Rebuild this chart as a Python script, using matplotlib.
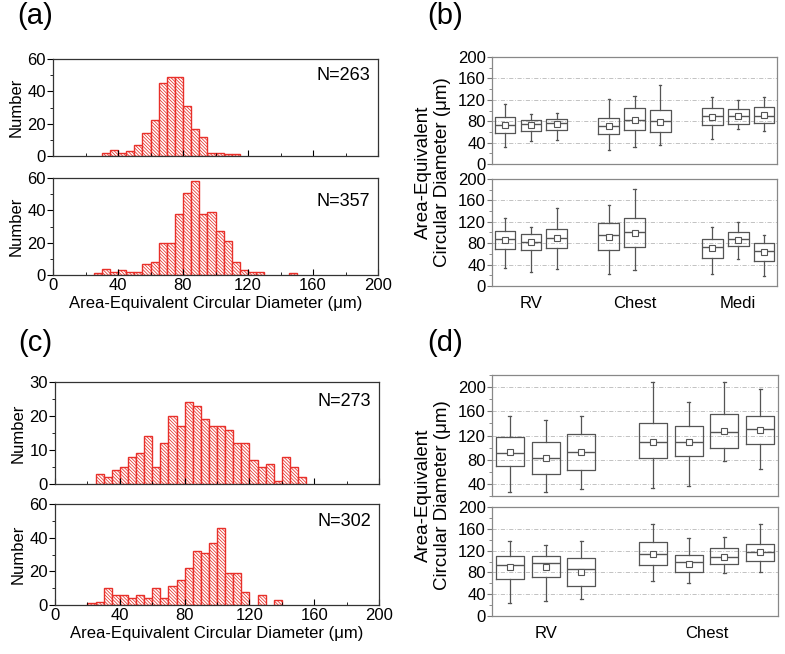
import numpy as np
import matplotlib.pyplot as plt
from matplotlib.ticker import MultipleLocator

plt.rcParams['font.family'] = ['Liberation Sans', 'DejaVu Sans']
plt.rcParams['hatch.linewidth'] = 0.55

# ====================== Histogram data (bin width 5 um) ======================
bin_width = 5
a1_start = 30
a1_counts = [2, 4, 2, 3, 7, 14, 22, 45, 49, 49, 31, 17, 12, 2, 2, 1, 1]
a2_start = 25
a2_counts = [1, 4, 2, 3, 2, 2, 7, 8, 20, 20, 38, 51, 58, 38, 39, 27, 21, 8,
             3, 2, 2, 0, 0, 0, 1]
c1_start = 25
c1_counts = [3, 2, 4, 5, 8, 9, 14, 5, 12, 20, 17, 24, 23, 19, 17, 17, 16, 12,
             12, 7, 5, 6, 1, 8, 5, 2]
c2_start = 20
c2_counts = [1, 2, 10, 6, 6, 4, 6, 4, 10, 4, 11, 15, 22, 32, 31, 37, 46, 19,
             19, 8, 0, 6, 0, 3]

# ====================== Box plot data (um) ======================
b1_pos = [1, 2, 3, 5, 6, 7, 9, 10, 11]
b1_hi = [113, 93, 96, 122, 127, 148, 125, 120, 125]
b1_q3 = [87, 82, 85, 86, 105, 101, 105, 103, 107]
b1_med = [72, 75, 77, 71, 83, 81, 89, 89, 89]
b1_mean = [72, 72, 75, 71, 83, 79, 88, 89, 91]
b1_q1 = [58, 62, 64, 57, 63, 59, 72, 75, 76]
b1_lo = [32, 43, 45, 27, 32, 36, 47, 66, 61]

b2_pos = [1, 2, 3, 5, 6, 9, 10, 11]
b2_hi = [127, 111, 146, 152, 181, 111, 119, 96]
b2_q3 = [102, 98, 107, 118, 127, 87, 101, 81]
b2_med = [87, 83, 90, 96, 100, 72, 87, 66]
b2_mean = [86, 82, 89, 92, 99, 71, 86, 63]
b2_q1 = [69, 67, 71, 67, 72, 53, 74, 47]
b2_lo = [34, 27, 31, 22, 29, 23, 50, 19]

d1_pos = [1, 2, 3, 5, 6, 7, 8]
d1_hi = [152, 145, 152, 209, 176, 209, 197]
d1_q3 = [118, 109, 122, 141, 136, 156, 153]
d1_med = [91, 82, 93, 110, 109, 126, 131]
d1_mean = [93, 82, 92, 110, 110, 128, 129]
d1_q1 = [69, 57, 63, 82, 86, 100, 106]
d1_lo = [26, 26, 31, 34, 37, 78, 65]

d2_pos = [1, 2, 3, 5, 6, 7, 8]
d2_hi = [137, 130, 137, 169, 143, 145, 168]
d2_q3 = [111, 111, 106, 135, 112, 125, 133]
d2_med = [94, 97, 86, 113, 99, 109, 117]
d2_mean = [89, 90, 80, 114, 96, 109, 117]
d2_q1 = [67, 71, 55, 93, 81, 95, 101]
d2_lo = [24, 27, 32, 64, 60, 78, 81]

b_groups = ["RV", "Chest", "Medi"]
b_group_pos = [2, 6, 10]
d_groups = ["RV", "Chest"]
d_group_pos = [2, 6.5]

# ====================== Figure ======================
W, H = 785, 654
fig = plt.figure(figsize=(W / 100, H / 100), dpi=100)


def px_axes(x0, y0, x1, y1):
    return fig.add_axes([x0 / W, 1 - y1 / H, (x1 - x0) / W, (y1 - y0) / H])


red = '#e8302a'
gray = '#555555'
xlab = "Area-Equivalent Circular Diameter (\u03bcm)"


def draw_hist(ax, start, counts, ymax, ystep, label, label_y, show_x):
    lefts = [start + bin_width * i for i in range(len(counts))]
    keep = [i for i, c in enumerate(counts) if c > 0]
    ax.bar([lefts[i] for i in keep], [counts[i] for i in keep], width=bin_width,
           align='edge', facecolor='white', edgecolor=red, linewidth=1.0,
           hatch='\\' * 10)
    ax.set_xlim(0, 200)
    ax.set_ylim(0, ymax)
    ax.xaxis.set_major_locator(MultipleLocator(40))
    ax.xaxis.set_minor_locator(MultipleLocator(20))
    ax.yaxis.set_major_locator(MultipleLocator(ystep))
    ax.yaxis.set_minor_locator(MultipleLocator(ystep / 2))
    ax.tick_params(axis='x', which='both', direction='in', top=False, labelsize=12,
                   labelbottom=show_x, pad=2)
    ax.tick_params(axis='x', which='major', length=4)
    ax.tick_params(axis='x', which='minor', length=2.5)
    ax.tick_params(axis='y', which='major', direction='out', length=4, labelsize=12, pad=1)
    ax.tick_params(axis='y', which='minor', direction='out', length=2)
    for s in ax.spines.values():
        s.set_color('#333333')
        s.set_linewidth(0.9)
    ax.set_ylabel("Number", fontsize=12, labelpad=3)
    ax.text(0.975, label_y, label, transform=ax.transAxes, ha='right', va='center',
            fontsize=13)
    if show_x:
        ax.set_xlabel(xlab, fontsize=12, labelpad=2)


def draw_box(ax, pos, lo, q1, med, q3, hi, mean, ylim, yticks, xmax, groups,
             group_pos, width):
    stats = []
    for i in range(len(pos)):
        stats.append({'whislo': lo[i], 'q1': q1[i], 'med': med[i], 'q3': q3[i],
                      'whishi': hi[i], 'mean': mean[i], 'fliers': []})
    line = dict(color=gray, linewidth=0.9)
    ax.bxp(stats, positions=pos, widths=width, showmeans=True, showfliers=False,
           boxprops=line, whiskerprops=line, capprops=line,
           medianprops=dict(color=gray, linewidth=1.0), capwidths=0.08,
           meanprops=dict(marker='s', markersize=4, markerfacecolor='white',
                          markeredgecolor=gray, markeredgewidth=0.8))
    ax.set_xlim(0.5, xmax)
    ax.set_ylim(*ylim)
    ax.set_yticks(yticks)
    ax.yaxis.set_minor_locator(MultipleLocator(20))
    ax.yaxis.grid(True, color='#b8b8b8', linestyle=(0, (5, 2, 1, 2)), linewidth=0.6)
    ax.set_axisbelow(True)
    ax.tick_params(axis='y', which='major', direction='out', length=3.5,
                   labelsize=12, pad=1, color='#777777')
    ax.tick_params(axis='y', which='minor', direction='out', length=2, color='#777777')
    for s in ax.spines.values():
        s.set_color('#888888')
        s.set_linewidth(0.9)
    if groups:
        ax.set_xticks(group_pos)
        ax.set_xticklabels(groups, fontsize=12)
        ax.tick_params(axis='x', length=0, pad=7)
    else:
        ax.set_xticks([])


# ---- (a) ----
ax = px_axes(53, 59, 378, 156)
draw_hist(ax, a1_start, a1_counts, 60, 20, "N=263", 0.835, False)
ax = px_axes(53, 178, 378, 275)
draw_hist(ax, a2_start, a2_counts, 60, 20, "N=357", 0.76, True)

# ---- (c) ----
ax = px_axes(55, 382, 379, 484)
draw_hist(ax, c1_start, c1_counts, 30, 10, "N=273", 0.81, False)
ax = px_axes(55, 504, 379, 605)
draw_hist(ax, c2_start, c2_counts, 60, 20, "N=302", 0.825, True)

# ---- (b) ----
ax = px_axes(492, 57, 777, 164)
draw_box(ax, b1_pos, b1_lo, b1_q1, b1_med, b1_q3, b1_hi, b1_mean, (0, 200),
         range(0, 201, 40), 11.5, None, None, 0.8)
ax = px_axes(492, 179, 777, 286)
draw_box(ax, b2_pos, b2_lo, b2_q1, b2_med, b2_q3, b2_hi, b2_mean, (0, 200),
         range(0, 201, 40), 11.5, b_groups, b_group_pos, 0.8)

# ---- (d) ----
ax = px_axes(492, 375, 778, 496)
draw_box(ax, d1_pos, d1_lo, d1_q1, d1_med, d1_q3, d1_hi, d1_mean, (20, 220),
         range(40, 201, 40), 8.5, None, None, 0.79)
ax = px_axes(492, 507, 778, 616)
draw_box(ax, d2_pos, d2_lo, d2_q1, d2_med, d2_q3, d2_hi, d2_mean, (0, 200),
         range(0, 201, 40), 8.5, d_groups, d_group_pos, 0.79)

# shared y labels of the box plot panels
ylab = "Area-Equivalent\nCircular Diameter (\u03bcm)"
fig.text(433 / W, 1 - 172 / H, ylab, rotation=90, ha='center', va='center',
         fontsize=13.5, linespacing=1.1)
fig.text(433 / W, 1 - 495 / H, ylab, rotation=90, ha='center', va='center',
         fontsize=13.5, linespacing=1.1)

# panel letters
fig.text(35 / W, 1 - 16 / H, "(a)", ha='center', va='center', fontsize=21)
fig.text(445 / W, 1 - 16 / H, "(b)", ha='center', va='center', fontsize=21)
fig.text(35 / W, 1 - 343 / H, "(c)", ha='center', va='center', fontsize=21)
fig.text(445 / W, 1 - 343 / H, "(d)", ha='center', va='center', fontsize=21)

fig.savefig("out.png", dpi=100)
